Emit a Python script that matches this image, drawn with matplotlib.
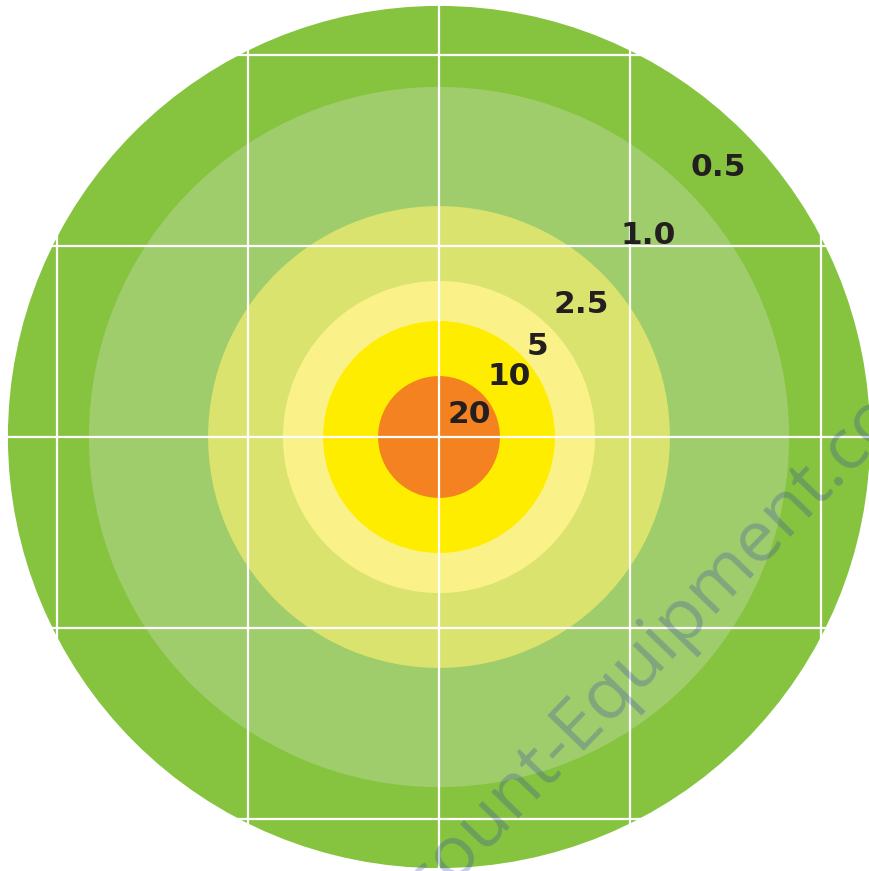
import math
import matplotlib
matplotlib.use("Agg")
import matplotlib.pyplot as plt
from matplotlib.patches import Circle

# ── 数据：各环的读数与半径（单位 = 网格间距） ──
LEVELS = ["0.5", "1.0", "2.5", "5", "10", "20"]
RADII = [2.257, 1.833, 1.209, 0.817, 0.607, 0.319]
COLORS = ["#86C440", "#9FCD6C", "#DAE36E", "#FAF289", "#FFED00", "#F58220"]
GRID_POS = [-2, -1, 0, 1, 2]

# 标签放在相邻两环的中间，沿约 43° 方向
LABEL_R = [2.03, 1.52, 1.015, 0.703, 0.484, 0.198]
LABEL_ANG = [44.0, 44.0, 43.0, 42.6, 41.0, 37.0]

WATERMARK = "Discount-Equipment.com"

fig = plt.figure(figsize=(8.7, 8.71), dpi=100)
ax = fig.add_axes([0, 0, 1, 1])
ax.set_xlim(-439 / 191, (870 - 439) / 191)
ax.set_ylim(-(871 - 437) / 191, 437 / 191)
ax.axis("off")

for r, c in zip(RADII, COLORS):
    ax.add_patch(Circle((0, 0), r, facecolor=c, edgecolor="none", zorder=1))

for g in GRID_POS:
    ax.axvline(g, color="white", linewidth=1.6, zorder=2)
    ax.axhline(g, color="white", linewidth=1.6, zorder=2)

for lab, r, a in zip(LEVELS, LABEL_R, LABEL_ANG):
    t = math.radians(a)
    ax.text(r * math.cos(t), r * math.sin(t), lab, ha="center", va="center",
            fontsize=22.5, fontweight="bold", family="DejaVu Sans",
            color="#231F20", zorder=3)

# 水印（半透明蓝色，斜放）
ax.text(1.042, -1.173, WATERMARK, rotation=46, rotation_mode="anchor",
        ha="center", va="center", fontsize=52, fontweight="normal",
        color="#283CAA", alpha=0.27,
        family=["Open Sans", "DejaVu Sans"], zorder=4)

fig.savefig("out.png", dpi=100)
